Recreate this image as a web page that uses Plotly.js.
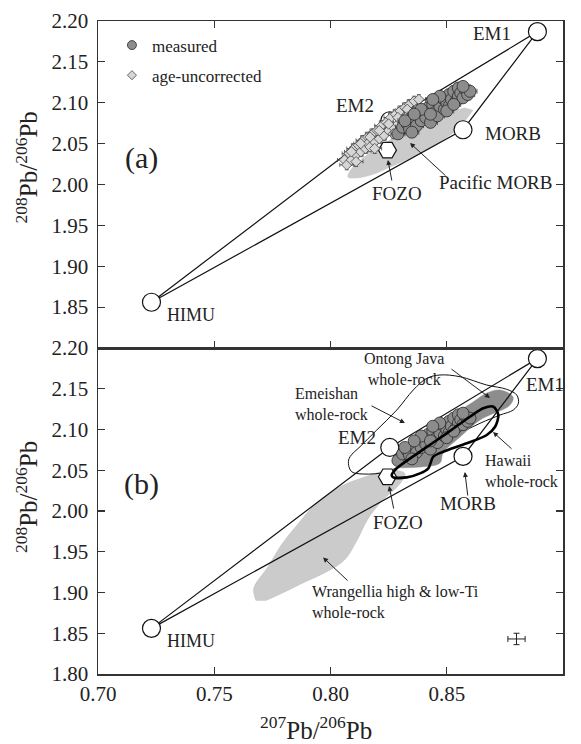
<!DOCTYPE html>
<html>
<head>
<meta charset="utf-8">
<script src="https://cdn.plot.ly/plotly-3.0.1.min.js"></script>
<style>html,body{margin:0;padding:0;background:#fff;}#chart{width:581px;height:744px;}</style>
</head>
<body>
<div id="chart"></div>
<script>
// ---------- data ----------
const xTicks = [0.70, 0.75, 0.80, 0.85, 0.90];
const yTicksTop = [1.85, 1.90, 1.95, 2.00, 2.05, 2.10, 2.15, 2.20];
const yTicksBottom = [1.80, 1.85, 1.90, 1.95, 2.00, 2.05, 2.10, 2.15, 2.20];

// end-members: HIMU, EM2, EM1, MORB
const emNames = ['HIMU', 'EM2', 'EM1', 'MORB'];
const emX = [0.723, 0.8255, 0.889, 0.857];
const emY = [1.856, 2.078, 2.187, 2.067];
const fozoX = [0.8245];
const fozoY = [2.042];

// measured samples
const measX = [0.829,0.831,0.833,0.834,0.836,0.837,0.838,0.839,0.840,0.841,0.842,0.843,0.844,0.845,0.846,0.846,0.847,0.848,0.849,0.850,0.851,0.851,0.852,0.853,0.854,0.855,0.855,0.856,0.857,0.858,0.859,0.860,0.835,0.839,0.843,0.847,0.850,0.853,0.857,0.832,0.844,0.836];
const measY = [2.062,2.070,2.074,2.068,2.080,2.072,2.085,2.078,2.090,2.082,2.094,2.076,2.098,2.088,2.102,2.084,2.096,2.106,2.092,2.100,2.110,2.096,2.104,2.114,2.102,2.108,2.118,2.112,2.106,2.116,2.110,2.114,2.064,2.092,2.086,2.108,2.090,2.098,2.120,2.078,2.104,2.086];
// age-uncorrected samples
const uncX = [0.806,0.807,0.808,0.809,0.810,0.811,0.812,0.813,0.814,0.815,0.816,0.816,0.817,0.818,0.819,0.820,0.821,0.822,0.823,0.824,0.825,0.826,0.827,0.828,0.829,0.830,0.831,0.832,0.833,0.834,0.835,0.836,0.837,0.838,0.809,0.813,0.817,0.821,0.825,0.829,0.833,0.811,0.819,0.827,0.835];
const uncY = [2.030,2.024,2.038,2.030,2.044,2.036,2.048,2.040,2.054,2.044,2.058,2.050,2.046,2.062,2.052,2.066,2.056,2.072,2.060,2.076,2.066,2.082,2.070,2.086,2.074,2.090,2.078,2.094,2.084,2.098,2.088,2.102,2.092,2.104,2.040,2.050,2.058,2.066,2.074,2.082,2.092,2.028,2.044,2.062,2.080];
const errX = 0.003, errY = 0.006;

// field outlines
const pacMorbX = [0.8613,0.8585,0.8553,0.8470,0.8372,0.8270,0.8174,0.8110,0.8075,0.8090,0.8135,0.8220,0.8316,0.8420,0.8514,0.8580];
const pacMorbY = [2.0911,2.0800,2.0691,2.0520,2.0361,2.0230,2.0116,2.0080,2.0092,2.0190,2.0312,2.0480,2.0642,2.0780,2.0887,2.0940];

const wrangX = [0.768,0.767,0.773,0.779,0.786,0.794,0.803,0.815,0.826,0.832,0.830,0.822,0.816,0.811,0.806,0.798,0.789,0.779,0.772];
const wrangY = [1.890,1.905,1.931,1.959,1.984,2.010,2.028,2.042,2.050,2.046,2.034,2.012,1.990,1.962,1.940,1.925,1.913,1.899,1.890];

const ontongX = [0.8286,0.8355,0.8428,0.8527,0.8613,0.8673,0.8729,0.8785,0.8772,0.8643,0.8557,0.8484,0.8471,0.8385,0.8286];
const ontongY = [2.065,2.0785,2.0994,2.1178,2.1337,2.1448,2.1485,2.140,2.130,2.1117,2.0908,2.0712,2.059,2.054,2.053];

const emeiX = [0.8077,0.8091,0.8141,0.8242,0.8356,0.8500,0.8643,0.8729,0.8786,0.8808,0.8801,0.8758,0.8672,0.8557,0.8471,0.8414,0.8356,0.8285,0.8199,0.8127,0.8084,0.8077];
const emeiY = [2.0585,2.0482,2.0454,2.0482,2.0647,2.0871,2.1076,2.1178,2.1239,2.1321,2.1423,2.1493,2.1546,2.1648,2.1669,2.1628,2.1485,2.1239,2.0994,2.0789,2.0666,2.0585];

const hawX = [0.8263,0.8285,0.8385,0.8500,0.8600,0.8657,0.8701,0.8722,0.8708,0.8672,0.8586,0.8485,0.8442,0.8421,0.8385,0.8328,0.8270,0.8263];
const hawY = [2.0442,2.0524,2.0728,2.0953,2.1157,2.1260,2.1280,2.1178,2.1034,2.0933,2.0831,2.0728,2.0666,2.0524,2.0462,2.0413,2.0413,2.0442];

// representative analytical error
const repErrX = [0.880], repErrY = [1.843];
const repErrDX = 0.0037, repErrDY = 0.007;

// ---------- build ----------
const FONT = 'Liberation Serif, Times New Roman, serif';
const TXT = '#222';
const order = [0, 1, 2, 3, 0];
const polyX = order.map(i => emX[i]);
const polyY = order.map(i => emY[i]);

function panelTraces(xa, ya) {
  return [
    {x: polyX, y: polyY, xaxis: xa, yaxis: ya, mode: 'lines', line: {color: '#111', width: 1.2}, showlegend: false, hoverinfo: 'skip'},
    {x: emX, y: emY, xaxis: xa, yaxis: ya, mode: 'markers', marker: {symbol: 'circle', size: 18, color: '#fff', line: {color: '#111', width: 1.2}}, showlegend: false},
    {x: fozoX, y: fozoY, xaxis: xa, yaxis: ya, mode: 'markers', marker: {symbol: 'hexagon2', size: 18, color: '#fff', line: {color: '#111', width: 1.2}}, showlegend: false}
  ];
}

const measMarker = {symbol: 'circle', size: 12, color: '#8c8c8c', line: {color: '#2a2a2a', width: 0.8}};
const uncMarker = {symbol: 'diamond', size: 8, color: '#d6d6d6', line: {color: '#444', width: 0.8}};

const traces = [];
// top panel
traces.push({x: pacMorbX, y: pacMorbY, xaxis: 'x2', yaxis: 'y2', mode: 'lines', fill: 'toself', fillcolor: '#cbcbcb', line: {color: '#c4c4c4', width: 0.5, shape: 'spline', smoothing: 1}, showlegend: false});
traces.push(...panelTraces('x2', 'y2'));
traces.push({x: uncX, y: uncY, xaxis: 'x2', yaxis: 'y2', mode: 'markers', showlegend: false, marker: uncMarker,
  error_x: {type: 'constant', value: errX, thickness: 0.8, width: 2, color: '#444'},
  error_y: {type: 'constant', value: errY, thickness: 0.8, width: 2, color: '#444'}});
traces.push({x: measX, y: measY, xaxis: 'x2', yaxis: 'y2', mode: 'markers', showlegend: false, marker: measMarker,
  error_x: {type: 'constant', value: errX, thickness: 0.8, width: 2.5, color: '#333'},
  error_y: {type: 'constant', value: errY, thickness: 0.8, width: 2.5, color: '#333'}});
// legend-only entries (no points drawn)
traces.push({x: [null], y: [null], xaxis: 'x2', yaxis: 'y2', mode: 'markers', name: 'measured', legendgroup: 'a', legendrank: 1,
  marker: Object.assign({}, measMarker, {size: 9})});
traces.push({x: [null], y: [null], xaxis: 'x2', yaxis: 'y2', mode: 'markers', name: 'age-uncorrected', legendgroup: 'b', legendrank: 2,
  marker: Object.assign({}, uncMarker, {size: 7})});

// bottom panel
traces.push({x: wrangX, y: wrangY, xaxis: 'x', yaxis: 'y', mode: 'lines', fill: 'toself', fillcolor: '#cbcbcb', line: {color: '#bdbdbd', width: 0.6, shape: 'spline', smoothing: 1}, showlegend: false});
traces.push({x: emeiX, y: emeiY, xaxis: 'x', yaxis: 'y', mode: 'lines', line: {color: '#111', width: 1, shape: 'spline', smoothing: 1}, showlegend: false});
traces.push({x: ontongX, y: ontongY, xaxis: 'x', yaxis: 'y', mode: 'lines', fill: 'toself', fillcolor: '#8d8d8d', line: {color: '#8d8d8d', width: 0.5, shape: 'spline', smoothing: 1}, showlegend: false});
traces.push(...panelTraces('x', 'y'));
traces.push({x: measX, y: measY, xaxis: 'x', yaxis: 'y', mode: 'markers', showlegend: false, marker: measMarker});
traces.push({x: hawX, y: hawY, xaxis: 'x', yaxis: 'y', mode: 'lines', line: {color: '#000', width: 2.6, shape: 'spline', smoothing: 0.8}, showlegend: false});
traces.push({x: repErrX, y: repErrY, xaxis: 'x', yaxis: 'y', mode: 'markers', showlegend: false,
  marker: {size: 1, color: '#222'},
  error_x: {type: 'constant', value: repErrDX, thickness: 1, width: 3, color: '#222'},
  error_y: {type: 'constant', value: repErrDY, thickness: 1, width: 3, color: '#222'}});

const axisBase = {
  range: [0.70, 0.90], showgrid: false, zeroline: false, showline: true, linecolor: '#333', linewidth: 1.5,
  ticks: 'inside', ticklen: 7, tickwidth: 1.2, tickcolor: '#333',
  tickfont: {family: FONT, size: 21, color: TXT}, tickformat: '.2f'
};
const split = 0.4992;

function txt(x, y, s, xa, ya, size, opts) {
  return Object.assign({x: x, y: y, xref: xa, yref: ya, text: s, showarrow: false, xanchor: 'center', yanchor: 'middle',
    font: {family: FONT, size: size || 18, color: TXT}}, opts || {});
}
function arr(x, y, ax, ay, xa, ya) {
  return {x: x, y: y, ax: ax, ay: ay, xref: xa, yref: ya, axref: xa, ayref: ya, text: '', showarrow: true,
    arrowhead: 2, arrowsize: 1, arrowwidth: 1, arrowcolor: '#222', standoff: 0, startstandoff: 0};
}

const annotations = [
  // top panel
  txt(0.8785, 2.1853, 'EM1', 'x2', 'y2', 19, {xanchor: 'right'}),
  txt(0.8105, 2.0972, 'EM2', 'x2', 'y2', 19),
  txt(0.8656, 2.0630, 'MORB', 'x2', 'y2', 19, {xanchor: 'left'}),
  txt(0.8286, 1.9896, 'FOZO', 'x2', 'y2', 19),
  txt(0.8708, 2.0030, 'Pacific MORB', 'x2', 'y2', 19),
  txt(0.7400, 1.8404, 'HIMU', 'x2', 'y2', 18),
  txt(0.7185, 2.0324, '(a)', 'x2', 'y2', 30),
  arr(0.8342, 2.0508, 0.8501, 2.0092, 'x2', 'y2'),
  arr(0.8247, 2.0300, 0.8265, 2.0030, 'x2', 'y2'),
  // bottom panel
  txt(0.8315, 2.1748, 'Ontong Java<br>whole-rock', 'x', 'y', 16),
  txt(0.7839, 2.1313, 'Emeishan<br>whole-rock', 'x', 'y', 16, {xanchor: 'left', align: 'left'}),
  txt(0.8923, 2.1558, 'EM1', 'x', 'y', 19),
  txt(0.8114, 2.0908, 'EM2', 'x', 'y', 19),
  txt(0.8656, 2.0491, 'Hawaii<br>whole-rock', 'x', 'y', 16, {xanchor: 'left', align: 'left'}),
  txt(0.8591, 2.0098, 'MORB', 'x', 'y', 19),
  txt(0.8290, 1.9853, 'FOZO', 'x', 'y', 19),
  txt(0.7912, 1.8883, 'Wrangellia high &amp; low-Ti<br>whole-rock', 'x', 'y', 16, {xanchor: 'left', align: 'left'}),
  txt(0.7400, 1.8405, 'HIMU', 'x', 'y', 18),
  txt(0.7185, 2.0336, '(b)', 'x', 'y', 30),
  arr(0.8686, 2.1387, 0.8514, 2.1755, 'x', 'y'),
  arr(0.8320, 2.1080, 0.8170, 2.1300, 'x', 'y'),
  arr(0.8699, 2.0969, 0.8785, 2.0748, 'x', 'y'),
  arr(0.8578, 2.0479, 0.8591, 2.0172, 'x', 'y'),
  arr(0.8252, 2.0307, 0.8273, 2.0012, 'x', 'y'),
  arr(0.7968, 1.9431, 0.8080, 1.9129, 'x', 'y'),
  // axis titles
  {x: -0.1527, y: 0.7757, xref: 'paper', yref: 'paper', xanchor: 'center', yanchor: 'middle', text: '<sup>208</sup>Pb/<sup>206</sup>Pb', textangle: -90, showarrow: false, font: {family: FONT, size: 25, color: TXT}},
  {x: -0.1527, y: 0.271, xref: 'paper', yref: 'paper', xanchor: 'center', yanchor: 'middle', text: '<sup>208</sup>Pb/<sup>206</sup>Pb', textangle: -90, showarrow: false, font: {family: FONT, size: 25, color: TXT}},
  {x: 0.469, y: -0.083, xref: 'paper', yref: 'paper', xanchor: 'center', yanchor: 'middle', text: '<sup>207</sup>Pb/<sup>206</sup>Pb', showarrow: false, font: {family: FONT, size: 25, color: TXT}}
];

const layout = {
  width: 581, height: 744,
  margin: {l: 98, r: 18, t: 21, b: 70, pad: 0},
  paper_bgcolor: '#fff', plot_bgcolor: '#fff',
  font: {family: FONT, color: TXT},
  showlegend: true,
  legend: {x: 0.03, y: 0.99, xanchor: 'left', yanchor: 'top', bgcolor: 'rgba(0,0,0,0)', borderwidth: 0,
    font: {family: FONT, size: 17, color: TXT}, traceorder: 'grouped', tracegroupgap: 5, itemsizing: 'trace'},
  xaxis: Object.assign({}, axisBase, {anchor: 'y', domain: [0, 1], mirror: true, tickvals: xTicks}),
  xaxis2: Object.assign({}, axisBase, {anchor: 'y2', domain: [0, 1], mirror: 'ticks', tickvals: xTicks, showticklabels: false, matches: 'x'}),
  yaxis: Object.assign({}, axisBase, {range: [1.80, 2.20], anchor: 'x', domain: [0, split], mirror: 'ticks', tickvals: yTicksBottom, ticklabelstandoff: 4}),
  yaxis2: Object.assign({}, axisBase, {range: [1.80, 2.20], anchor: 'x2', domain: [split, 1], mirror: 'ticks', tickvals: yTicksTop, ticklabelstandoff: 4}),
  annotations: annotations
};

Plotly.newPlot('chart', traces, layout, {displayModeBar: false, staticPlot: true});
</script>
</body>
</html>
